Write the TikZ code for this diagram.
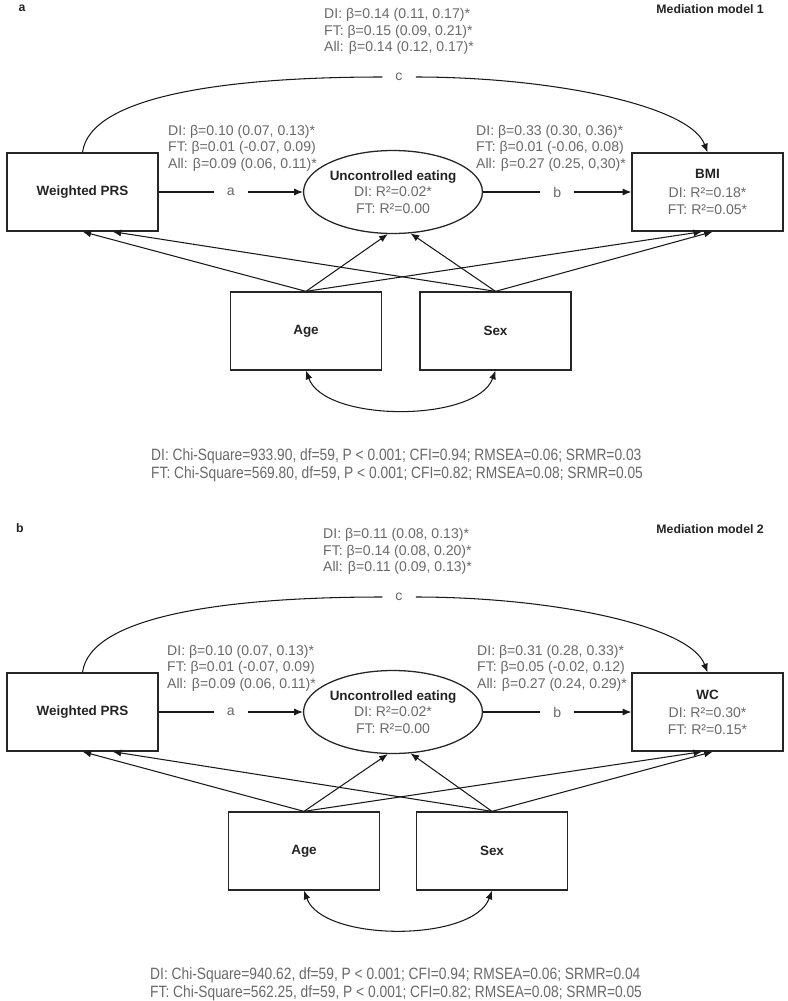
\documentclass[tikz,border=0pt]{standalone}
\usepackage{fontspec}
\setmainfont{Liberation Sans}
\newfontfamily\narrowfont[FakeStretch=0.84]{Liberation Sans}
\usepackage{tikz}
\usetikzlibrary{arrows.meta,shapes.geometric}
\tikzset{>={Latex[length=2.6mm,width=2.1mm]}}
\definecolor{labelgray}{RGB}{105,105,105}
\definecolor{namegray}{RGB}{35,35,35}

\begin{document}
\begin{tikzpicture}[x=0.3mm, y=-0.3mm,
		var/.style={rectangle, draw=black!85, line width=1.1pt, minimum width=45.3mm, minimum height=23.4mm, align=center, text=namegray, font=\fontsize{11.5}{14}\selectfont\bfseries},
		med/.style={ellipse, draw=black!85, line width=1.1pt, minimum width=53.1mm, minimum height=24.9mm, inner sep=0pt, align=center, text=labelgray, font=\fontsize{12}{14.1}\selectfont},
		est/.style={anchor=west, inner sep=0pt, align=left, text=labelgray, font=\fontsize{12}{14.1}\selectfont},
		fit/.style={anchor=west, inner sep=0pt, align=left, text=labelgray, font=\narrowfont\fontsize{14}{15.4}\selectfont},
		tag/.style={fill=white, inner xsep=3.9mm, inner ysep=1pt, text=labelgray, font=\fontsize{12}{14.1}\selectfont},
		head/.style={inner sep=0pt, text=namegray, font=\fontsize{10.5}{12}\selectfont\bfseries},
		link/.style={line width=0.9pt, draw=black!90}]
		\useasboundingbox (0,0) rectangle (787,1001);
		
		% panel a
		\node[head] (1) at (22,8) {a};
		\node[head, anchor=east] (2) at (764,9) {Mediation model 1};
		\node[est] (3) at (324,31.5) {DI: β=0.14 (0.11, 0.17)*\\FT: β=0.15 (0.09, 0.21)*\\All: β=0.14 (0.12, 0.17)*};
		\node[var] (4) at (82.5,192) {Weighted PRS};
		\node[med] (5) at (393,192) {{\fontsize{11.5}{14.1}\selectfont\bfseries\color{namegray}Uncontrolled eating}\\DI: R²=0.02*\\FT: R²=0.00};
		\node[var] (6) at (707.5,192) {BMI\\[2pt]\textcolor{labelgray}{\mdseries\fontsize{12}{14.1}\selectfont DI: R²=0.18*}\\\textcolor{labelgray}{\mdseries\fontsize{12}{14.1}\selectfont FT: R²=0.05*}};
		\node[var] (7) at (306,331) {Age};
		\node[var] (8) at (495.5,331) {Sex};
		\node[est] (9) at (168,148) {DI: β=0.10 (0.07, 0.13)*\\FT: β=0.01 (-0.07, 0.09)\\All: β=0.09 (0.06, 0.11)*};
		\node[est] (10) at (476,148) {DI: β=0.33 (0.30, 0.36)*\\FT: β=0.01 (-0.06, 0.08)\\All: β=0.27 (0.25, 0,30)*};
		\node[fit] (11) at (151,465) {DI: Chi-Square=933.90, df=59, P < 0.001; CFI=0.94; RMSEA=0.06; SRMR=0.03\\FT: Chi-Square=569.80, df=59, P < 0.001; CFI=0.82; RMSEA=0.08; SRMR=0.05};
		\node[tag] (12) at (399,77) {c};
		
		\draw[link, ->] (4.north) .. controls (90,95) and (230,77) .. (12.west) (12.east) .. controls (550,77) and (690,105) .. (6.north);
		\path (4) edge[link, ->] node[tag] {a} (5);
		\path (5) edge[link, ->] node[tag] {b} (6);
		\path (7.north) edge[link, ->] (4.south);
		\path (8.north) edge[link, ->] ([xshift=9mm]4.south);
		\path (7.north) edge[link, ->] (5.263);
		\path (8.north) edge[link, ->] (5.293);
		\path (7.north) edge[link, ->] ([xshift=-1.6mm]6.south);
		\path (8.north) edge[link, ->] ([xshift=1.6mm]6.south);
		\path (7.south) edge[link, <->, out=-70, in=-110, looseness=0.75] (8.south);
		
		% panel b
		\begin{scope}[shift={(0,520)}]
		\node[head] (21) at (20,8) {b};
		\node[head, anchor=east] (22) at (764,9) {Mediation model 2};
		\node[est] (23) at (323,31.5) {DI: β=0.11 (0.08, 0.13)*\\FT: β=0.14 (0.08, 0.20)*\\All: β=0.11 (0.09, 0.13)*};
		\node[var] (24) at (82.5,192) {Weighted PRS};
		\node[med] (25) at (393,192) {{\fontsize{11.5}{14.1}\selectfont\bfseries\color{namegray}Uncontrolled eating}\\DI: R²=0.02*\\FT: R²=0.00};
		\node[var] (26) at (707.5,192) {WC\\[2pt]\textcolor{labelgray}{\mdseries\fontsize{12}{14.1}\selectfont DI: R²=0.30*}\\\textcolor{labelgray}{\mdseries\fontsize{12}{14.1}\selectfont FT: R²=0.15*}};
		\node[var] (27) at (304,331) {Age};
		\node[var] (28) at (492,331) {Sex};
		\node[est] (29) at (167,148) {DI: β=0.10 (0.07, 0.13)*\\FT: β=0.01 (-0.07, 0.09)\\All: β=0.09 (0.06, 0.11)*};
		\node[est] (30) at (477,148) {DI: β=0.31 (0.28, 0.33)*\\FT: β=0.05 (-0.02, 0.12)\\All: β=0.27 (0.24, 0.29)*};
		\node[fit] (31) at (150,464) {DI: Chi-Square=940.62, df=59, P < 0.001; CFI=0.94; RMSEA=0.06; SRMR=0.04\\FT: Chi-Square=562.25, df=59, P < 0.001; CFI=0.82; RMSEA=0.08; SRMR=0.05};
		\node[tag] (32) at (399,77) {c};
		
		\draw[link, ->] (24.north) .. controls (90,95) and (230,77) .. (32.west) (32.east) .. controls (550,77) and (690,105) .. (26.north);
		\path (24) edge[link, ->] node[tag] {a} (25);
		\path (25) edge[link, ->] node[tag] {b} (26);
		\path (27.north) edge[link, ->] (24.south);
		\path (28.north) edge[link, ->] ([xshift=9mm]24.south);
		\path (27.north) edge[link, ->] (25.263);
		\path (28.north) edge[link, ->] (25.293);
		\path (27.north) edge[link, ->] ([xshift=-1.6mm]26.south);
		\path (28.north) edge[link, ->] ([xshift=1.6mm]26.south);
		\path (27.south) edge[link, <->, out=-70, in=-110, looseness=0.75] (28.south);
		\end{scope}
		
	\end{tikzpicture}
\end{document}
